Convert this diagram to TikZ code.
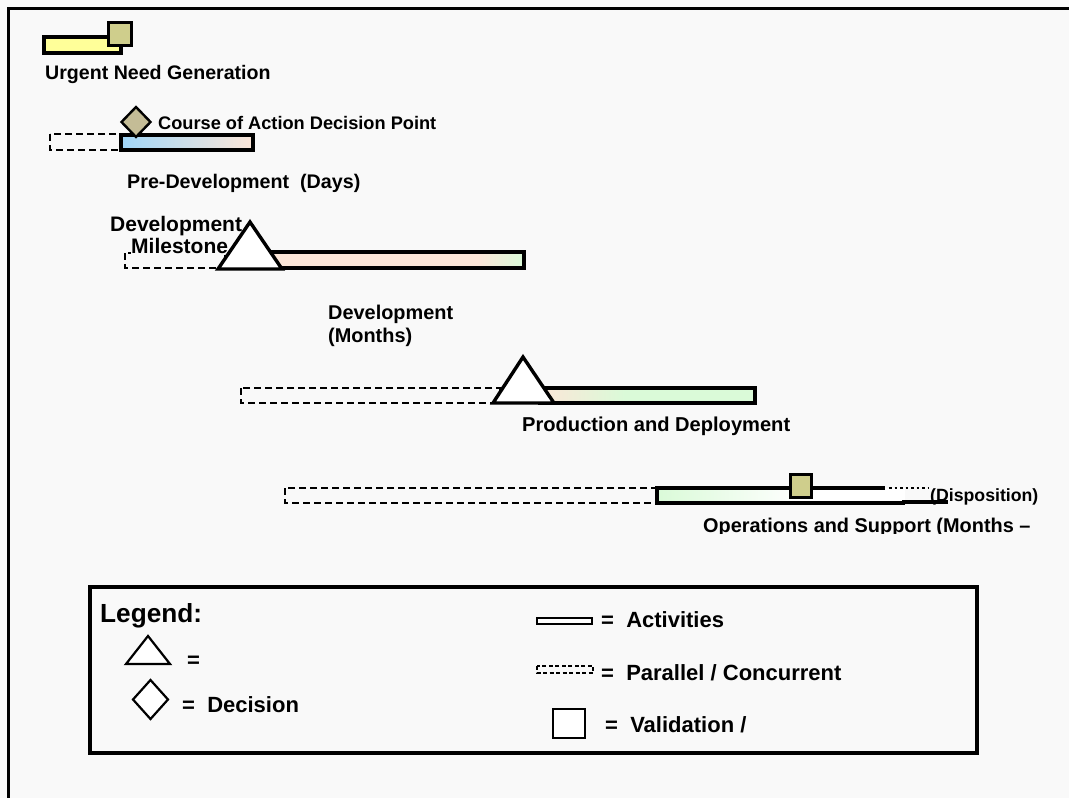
\documentclass[tikz,border=0pt]{standalone}
\usepackage{fontspec}
\setmainfont{Liberation Sans}
\usetikzlibrary{shapes.geometric}

\definecolor{bgc}{RGB}{249,249,249}
\definecolor{needyellow}{RGB}{255,255,153}
\definecolor{valolive}{RGB}{207,206,140}
\definecolor{decolive}{RGB}{196,188,150}
\definecolor{skyblue}{RGB}{160,214,248}
\definecolor{lavender}{RGB}{198,204,236}
\definecolor{peach}{RGB}{252,230,216}
\definecolor{mint}{RGB}{218,250,216}

\newcommand\lbl[2]{\fontsize{#1}{#1}\selectfont\bfseries #2}

\tikzset{
  bar/.style={draw=black, line width=3.2},
  parallel/.style={draw=black, line width=2.8, dash pattern=on 7pt off 4pt},
  milestone/.style={draw=black, fill=white, line width=3.4, line join=miter},
  validation/.style={draw=black, fill=valolive, line width=3},
  decision/.style={draw=black, fill=decolive, line width=2.4},
  txt/.style={anchor=base west, inner sep=0pt},
  legendline/.style={draw=black, line width=2.2},
}

\begin{document}
\begin{tikzpicture}[x=1pt, y=-1pt]
\useasboundingbox (0,0) rectangle (1069,798);
\fill[bgc] (0,0) rectangle (1069,798);

% outer frame (top and left edges)
\draw[line width=3.2] (1069,8.5) -- (8.5,8.5) -- (8.5,798);

% ---- Urgent need generation ----
\draw[bar, fill=needyellow] (44,37) rectangle (121,53);
\draw[validation] (108,22) rectangle (131,45);
\node[txt] (urgent) at (45,79) {\lbl{19.6}{Urgent Need Generation}};

% ---- Pre-development ----
\draw[parallel] (50,134) rectangle (122,150);
\shade[left color=skyblue, middle color=lavender, right color=peach] (121,135) rectangle (253,150);
\draw[bar] (121,135) rectangle (253,150);
\draw[decision] (136,107) -- (150.5,122) -- (136,137) -- (121.5,122) -- cycle;
\node[txt] (coa) at (158,129) {\lbl{18.2}{Course of Action Decision Point}};
\node[txt] (predev) at (127,188) {\lbl{19.7}{Pre-Development\ \ (Days)}};

% ---- Development ----
\draw[parallel] (125,253) rectangle (225,268);
\node[txt] (devms1) at (110,231) {\lbl{21}{Development}};
\node[txt, fill=bgc, inner ysep=2pt] (devms2) at (131,253) {\lbl{21}{Milestone}};
\fill[peach] (258,252) rectangle (478,268);
\shade[left color=peach, right color=mint] (478,252) rectangle (524,268);
\draw[bar] (258,252) rectangle (524,268);
\draw[milestone] (250,222) -- (282,269) -- (218,269) -- cycle;
\node[txt] (dev1) at (328,319) {\lbl{19.9}{Development}};
\node[txt] (dev2) at (328,342) {\lbl{19.9}{(Months)}};

% ---- Production and deployment ----
\draw[parallel] (241,388) rectangle (500,403);
\shade[left color=peach, right color=mint] (540,388) rectangle (625,403);
\fill[mint] (625,388) rectangle (755,403);
\draw[bar] (540,388) rectangle (755,403);
\draw[milestone] (523,357) -- (554,403) -- (493,403) -- cycle;
\node[txt] (prod) at (522,431) {\lbl{20.1}{Production and Deployment}};

% ---- Operations and support ----
\draw[parallel] (285,488) rectangle (660,503);
\shade[left color=mint, right color=white] (657,488) rectangle (800,503);
\fill[white] (800,488) rectangle (905,503);
\draw[bar] (885,488) -- (657,488) -- (657,503) -- (905,503);
\draw[line width=2.6, dash pattern=on 2.5pt off 3pt] (889,488) -- (928,488);
\draw[line width=3.8] (902,502) -- (948,502);
\draw[validation] (790,474) rectangle (811,497);
\node[txt] (dispo) at (930,501) {\lbl{17.7}{(Disposition)}};
\begin{scope}
  \clip (690,505) rectangle (1060,533);
  \node[txt] (ops) at (703,532) {\lbl{19.9}{Operations and Support (Months \textendash}};
\end{scope}

% ---- Legend ----
\draw[line width=3.2] (90,587) rectangle (977,753);
\node[txt] (legend) at (100,622) {\lbl{26.2}{Legend:}};

\draw[legendline, fill=white, line join=miter] (148,636) -- (170,664) -- (126,664) -- cycle;
\node[txt] (eqms) at (187,667) {\lbl{22}{=}};

\draw[legendline, fill=white] (150.5,680) -- (168,699.5) -- (150.5,719) -- (133,699.5) -- cycle;
\node[txt] (eqdec) at (182,712) {\lbl{22}{=\ \ Decision}};

\draw[legendline, fill=white] (537,618) rectangle (592,624);
\node[txt] (eqact) at (601,627) {\lbl{22}{=\ \ Activities}};

\draw[line width=1.8, dash pattern=on 4pt off 2.5pt] (537,666) rectangle (593,673);
\begin{scope}
  \clip (595,650) rectangle (900,680);
  \node[txt] (eqpar) at (601,680) {\lbl{22}{=\ \ Parallel / Concurrent}};
\end{scope}

\draw[legendline, fill=white] (553,709) rectangle (585,738);
\node[txt] (eqval) at (605,732) {\lbl{22}{=\ \ Validation /}};
\end{tikzpicture}
\end{document}
